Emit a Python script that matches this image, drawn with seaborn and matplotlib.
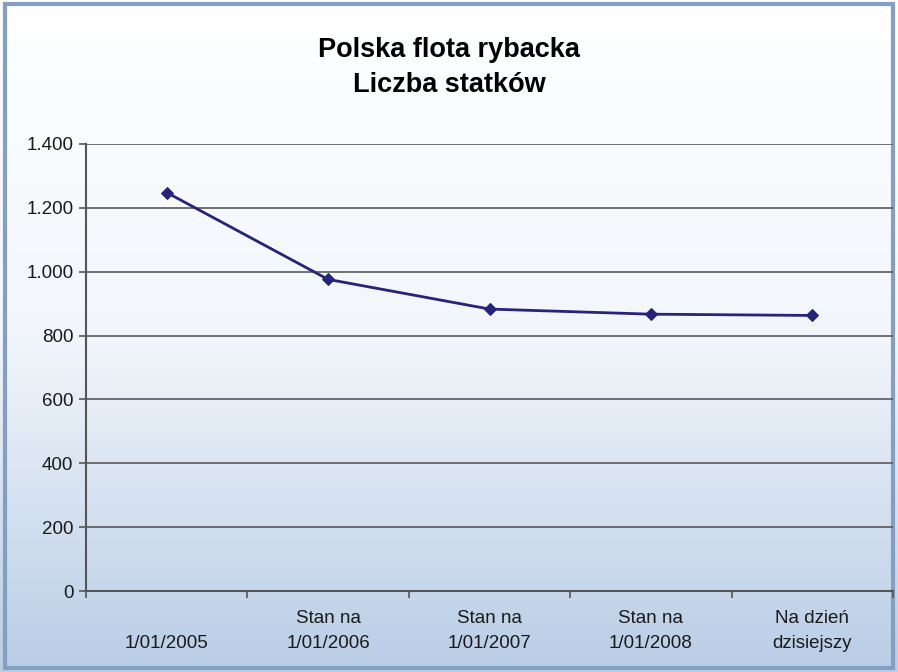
import matplotlib
matplotlib.use("Agg")
import matplotlib.pyplot as plt
import numpy as np
import pandas as pd
import seaborn as sns
from matplotlib.colors import LinearSegmentedColormap
from matplotlib.patches import Rectangle
from matplotlib.ticker import FuncFormatter

categories = [
    "\n1/01/2005",
    "Stan na\n1/01/2006",
    "Stan na\n1/01/2007",
    "Stan na\n1/01/2008",
    "Na dzień\ndzisiejszy",
]
ships = [1248, 976, 883, 867, 863]

df = pd.DataFrame({"okres": categories, "statki": ships})

sns.set_theme(style="white")
plt.rcParams["font.family"] = ["Liberation Sans", "DejaVu Sans"]

fig = plt.figure(figsize=(8.98, 6.72), dpi=100)

# gradient background for the whole figure
bg = fig.add_axes([0, 0, 1, 1], zorder=0)
grad_cmap = LinearSegmentedColormap.from_list("bg", ["#ffffff", "#f2f6fb", "#b9cde6"])
bg.imshow(np.linspace(0, 1, 256).reshape(-1, 1), aspect="auto", cmap=grad_cmap,
          extent=[0, 1, 0, 1], origin="upper")
bg.add_patch(Rectangle((0.006, 0.006), 0.988, 0.988, fill=False,
                       edgecolor="#839fc2", linewidth=3, transform=bg.transAxes))
bg.set_xlim(0, 1)
bg.set_ylim(0, 1)
bg.axis("off")

ax = fig.add_axes([86 / 898, 1 - 591 / 672, (893 - 86) / 898, (591 - 144) / 672], zorder=1)
ax.patch.set_alpha(0)

sns.lineplot(data=df, x="okres", y="statki", ax=ax, color="#25237a", linewidth=2,
             marker="D", markersize=6.5, markeredgecolor="#25237a", sort=False)

ax.set_ylim(0, 1400)
ax.set_xlim(-0.5, len(categories) - 0.5)
ax.set_yticks(range(0, 1401, 200))
ax.yaxis.set_major_formatter(FuncFormatter(lambda v, _: f"{int(v):,}".replace(",", ".")))
ax.grid(axis="y", color="#5a5a5a", linewidth=1.2)
ax.grid(axis="x", visible=False)

ax.set_xticks(np.arange(-0.5, len(categories), 1.0))
ax.set_xticklabels([])
ax.set_xticks(range(len(categories)), minor=True)
ax.set_xticklabels(categories, minor=True, fontsize=13.5, linespacing=1.6, color="#1a1a1a")
ax.tick_params(axis="x", which="minor", length=0, pad=14)
ax.tick_params(axis="x", which="major", length=5, width=1.2, color="#555555", direction="out")
ax.tick_params(axis="y", length=5, width=1.2, color="#555555", direction="out",
               labelsize=13.5, labelcolor="#1a1a1a", pad=4)
ax.xaxis.set_tick_params(bottom=True, which="both")
ax.yaxis.set_tick_params(left=True)

for side in ["top", "right"]:
    ax.spines[side].set_visible(False)
for side in ["left", "bottom"]:
    ax.spines[side].set_color("#555555")
    ax.spines[side].set_linewidth(1.5)

ax.set_xlabel("")
ax.set_ylabel("")

fig.text(0.5, 0.9, "Polska flota rybacka\nLiczba statków", ha="center", va="center",
         fontsize=19.5, fontweight="bold", color="black", linespacing=1.45)

fig.savefig("out.png", dpi=100)
